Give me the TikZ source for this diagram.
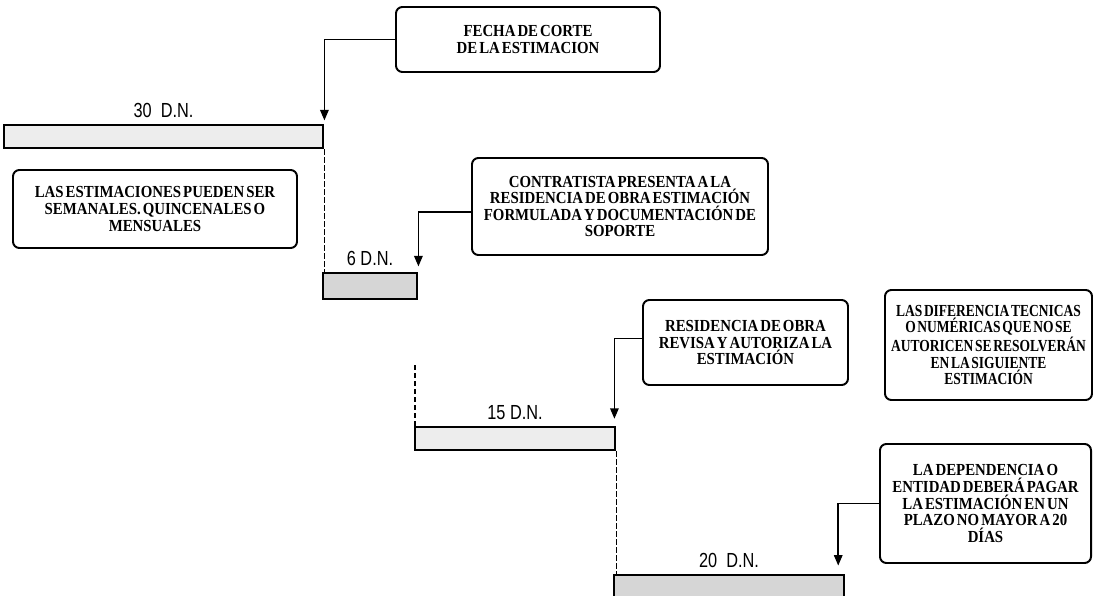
\documentclass[tikz,border=0pt]{standalone}
\usepackage{fontspec}
\usepackage{tikz}
\usetikzlibrary{arrows.meta,positioning}
\newfontfamily\boxfont[FakeStretch=0.88,WordSpace=0.55]{Liberation Serif}
\newfontfamily\boxfontn[FakeStretch=0.8,WordSpace=0.5]{Liberation Serif}
\newfontfamily\dnfont[FakeStretch=0.8]{Liberation Sans}
\tikzset{
  >={Triangle[length=2.6mm,width=2.1mm]},
  bx/.style={draw=black,fill=white,rounded corners=1.6mm,line width=1.4pt,align=center,inner sep=0pt,
    font=\boxfont\bfseries\fontsize{12pt}{11.8pt}\selectfont},
  bxn/.style={bx,font=\boxfontn\bfseries\fontsize{12pt}{11.8pt}\selectfont},
  bar/.style={draw=black,line width=2pt,inner sep=0pt},
  barl/.style={bar,fill=gray!14},
  bard/.style={bar,fill=gray!32},
  lab/.style={font=\dnfont\fontsize{14.5pt}{15pt}\selectfont,inner sep=0pt},
  arr/.style={->,draw=black,line width=1.1pt},
  dsh/.style={draw=black,line width=1.1pt,dash pattern=on 1.3mm off 0.7mm},
}
\begin{document}
\begin{tikzpicture}[x=0.25mm,y=-0.25mm]
  \useasboundingbox (0,0) rectangle (1093,596);
  % text boxes
  \node[bx,minimum width=66mm,minimum height=16.25mm] (fecha) at (528,39.5) {FECHA DE CORTE\\DE LA ESTIMACION};
  \node[bx,minimum width=71mm,minimum height=19.5mm] (estim) at (155,209) {LAS ESTIMACIONES PUEDEN SER\\SEMANALES. QUINCENALES O\\MENSUALES};
  \node[bx,minimum width=74mm,minimum height=24.25mm] (contr) at (620,206.5) {CONTRATISTA PRESENTA A LA\\RESIDENCIA DE OBRA ESTIMACIÓN\\FORMULADA Y DOCUMENTACIÓN DE\\SOPORTE};
  \node[bx,minimum width=51.25mm,minimum height=21.25mm] (resid) at (745.5,342.5) {RESIDENCIA DE OBRA\\REVISA Y AUTORIZA LA\\ESTIMACIÓN};
  \node[bxn,minimum width=51.75mm,minimum height=27.5mm] (difer) at (988.5,345) {LAS DIFERENCIA TECNICAS\\O NUMÉRICAS QUE NO SE\\AUTORICEN SE RESOLVERÁN\\EN LA SIGUIENTE\\ESTIMACIÓN};
  \node[bx,minimum width=52.75mm,minimum height=29.75mm] (depen) at (985.5,503.5) {LA DEPENDENCIA O\\ENTIDAD DEBERÁ PAGAR\\LA ESTIMACIÓN EN UN\\PLAZO NO MAYOR A 20\\DÍAS};
  % time bars
  \node[barl,minimum width=79.75mm,minimum height=5.75mm] (b30) at (163.5,136.5) {};
  \node[bard,minimum width=23.5mm,minimum height=6.5mm] (b6) at (370,286) {};
  \node[barl,minimum width=50mm,minimum height=5.75mm] (b15) at (515,438.5) {};
  \node[bard,minimum width=57.5mm,minimum height=6.25mm] (b20) at (729,587.5) {};
  \foreach \b/\t in {b30/30~~D.N.,b6/6~D.N.,b15/15~D.N.,b20/20~~D.N.}
    \node[lab,above=1.5mm of \b] (l\b) {\t};
  % connectors
  \draw[arr,shorten >=0.8mm] (fecha.west) -| (b30.north east);
  \draw[arr,shorten >=1.3mm] ([yshift=-1.4mm]contr.west) -| (b6.north east);
  \draw[arr,shorten >=1.7mm] ([yshift=1mm]resid.west) -| ([xshift=-0.5mm]b15.north east);
  \draw[arr,shorten >=2mm] (depen.west) -| ([xshift=-1.8mm]b20.north east);
  \coordinate (d6) at (415,365);
  \draw[dsh] (b30.south east) -- (b30.south east |- b6.north);
  \draw[dsh] (d6) -- (d6 |- b15.north);
  \draw[dsh] (b15.south east) -- (b15.south east |- b20.north);
\end{tikzpicture}
\end{document}
